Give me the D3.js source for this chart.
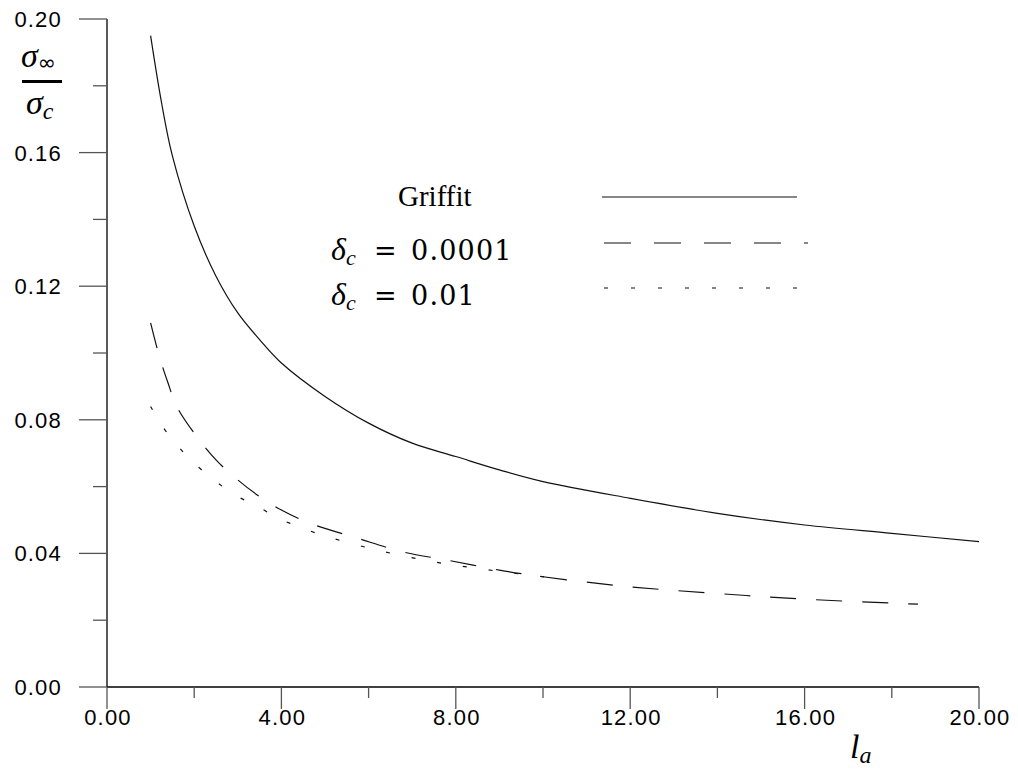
<!DOCTYPE html>
<html>
<head>
<meta charset="utf-8">
<script src="https://cdn.jsdelivr.net/npm/d3@7.9.0/dist/d3.min.js"></script>
<style>
  html, body { margin: 0; padding: 0; background: #fff; }
  svg { display: block; }
</style>
</head>
<body>
<svg id="chart"></svg>
<script>
// values
const griffitX = [1, 1.25, 1.5, 2, 2.5, 3, 3.5, 4, 5, 6, 7, 8, 9, 10, 12, 14, 16, 18, 20];
const griffitY = [0.195, 0.175, 0.159, 0.138, 0.123, 0.112, 0.104, 0.097, 0.087, 0.079, 0.073, 0.069, 0.065, 0.0615, 0.0565, 0.052, 0.0485, 0.046, 0.0435];

const delta1X = [1, 1.2, 1.4, 1.6, 2, 2.5, 3, 3.5, 4, 4.66, 5.73, 6.8, 7.8, 9, 10, 12, 14, 16, 18.6];
const delta1Y = [0.109, 0.099, 0.091, 0.084, 0.076, 0.068, 0.062, 0.057, 0.053, 0.049, 0.0446, 0.0404, 0.038, 0.035, 0.033, 0.030, 0.028, 0.0263, 0.0248];

const delta2X = [1, 1.3, 1.6, 2, 2.5, 3, 3.4, 3.9, 4.4, 5, 6.2, 7.4, 8.5, 9.5, 10.5];
const delta2Y = [0.084, 0.0775, 0.0725, 0.067, 0.0615, 0.057, 0.0545, 0.0507, 0.048, 0.0452, 0.041, 0.0377, 0.0355, 0.0338, 0.0322];

const xMajor = [0, 4, 8, 12, 16, 20];
const xMinor = [2, 6, 10, 14, 18];
const yMajor = [0, 0.04, 0.08, 0.12, 0.16, 0.20];
const yMinor = [0.02, 0.06, 0.10, 0.14, 0.18];

const width = 1018, height = 774;
const svg = d3.select("#chart").attr("width", width).attr("height", height);

const x = d3.scaleLinear().domain([0, 20]).range([107, 979]);
const y = d3.scaleLinear().domain([0, 0.2]).range([687, 19]);

const tickColor = "#555";
const sans = "Liberation Sans, Arial, sans-serif";
const serif = "Liberation Serif, Times New Roman, serif";
const mathSerif = "DejaVu Serif, serif";

// y axis
const yAxis = svg.append("g");
yAxis.append("line")
  .attr("x1", x(0)).attr("x2", x(0))
  .attr("y1", y(0.2)).attr("y2", y(0))
  .attr("stroke", "#000").attr("stroke-width", 1.3);
yAxis.selectAll(".ymaj").data(yMajor).enter().append("line")
  .attr("x1", x(0) - 28).attr("x2", x(0))
  .attr("y1", d => y(d)).attr("y2", d => y(d))
  .attr("stroke", tickColor).attr("stroke-width", 1.3);
yAxis.selectAll(".ymin").data(yMinor).enter().append("line")
  .attr("x1", x(0) - 14).attr("x2", x(0))
  .attr("y1", d => y(d)).attr("y2", d => y(d))
  .attr("stroke", tickColor).attr("stroke-width", 1.3);
yAxis.selectAll("text").data(yMajor).enter().append("text")
  .attr("x", 62).attr("y", d => y(d) + 8)
  .attr("text-anchor", "end")
  .attr("font-family", sans)
  .attr("font-size", 22).attr("letter-spacing", 1.2)
  .text(d => d.toFixed(2));

// x axis
const xAxis = svg.append("g");
xAxis.append("line")
  .attr("x1", x(0)).attr("x2", x(20))
  .attr("y1", y(0)).attr("y2", y(0))
  .attr("stroke", "#000").attr("stroke-width", 1.3);
xAxis.selectAll(".xmaj").data(xMajor).enter().append("line")
  .attr("x1", d => x(d)).attr("x2", d => x(d))
  .attr("y1", y(0)).attr("y2", y(0) + 22)
  .attr("stroke", tickColor).attr("stroke-width", 1.3);
xAxis.selectAll(".xmin").data(xMinor).enter().append("line")
  .attr("x1", d => x(d)).attr("x2", d => x(d))
  .attr("y1", y(0)).attr("y2", y(0) + 11)
  .attr("stroke", tickColor).attr("stroke-width", 1.3);
xAxis.selectAll("text").data(xMajor).enter().append("text")
  .attr("x", d => x(d) + 1).attr("y", 725)
  .attr("text-anchor", "middle")
  .attr("font-family", sans)
  .attr("font-size", 22).attr("letter-spacing", 1.2)
  .text(d => d.toFixed(2));

// curves
const line = d3.line().x(d => x(d[0])).y(d => y(d[1])).curve(d3.curveCatmullRom.alpha(0.5));
const series = [
  { xs: griffitX, ys: griffitY, dash: null },
  { xs: delta1X, ys: delta1Y, dash: "26,20" },
  { xs: delta2X, ys: delta2Y, dash: "4,22" }
];
svg.selectAll(".curve").data(series).enter().append("path")
  .attr("d", s => line(d3.zip(s.xs, s.ys)))
  .attr("fill", "none")
  .attr("stroke", "#111")
  .attr("stroke-width", 1.2)
  .attr("stroke-dasharray", s => s.dash);

// legend
svg.append("text").attr("x", 398).attr("y", 206)
  .attr("font-family", serif).attr("font-size", 29).text("Griffit");
svg.append("line").attr("x1", 602).attr("x2", 797).attr("y1", 197).attr("y2", 197)
  .attr("stroke", "#111").attr("stroke-width", 1.2);

function deltaLabel(yBase, val) {
  const t = svg.append("text").attr("x", 331).attr("y", yBase)
    .attr("font-family", serif).attr("font-size", 32);
  t.append("tspan").attr("font-style", "italic").text("δ");
  t.append("tspan").attr("font-style", "italic").attr("font-size", 22).attr("dy", 5).text("c");
  svg.append("text").attr("x", 374).attr("y", yBase)
    .attr("font-family", mathSerif).attr("font-size", 27).text("=");
  svg.append("text").attr("x", 411).attr("y", yBase)
    .attr("font-family", mathSerif).attr("font-size", 27).attr("letter-spacing", 1.2).text(val);
}
deltaLabel(260, "0.0001");
deltaLabel(305, "0.01");
svg.append("line").attr("x1", 604).attr("x2", 808).attr("y1", 243).attr("y2", 243)
  .attr("stroke", "#111").attr("stroke-width", 1.2).attr("stroke-dasharray", "27,23");
svg.append("line").attr("x1", 604).attr("x2", 805).attr("y1", 288).attr("y2", 288)
  .attr("stroke", "#111").attr("stroke-width", 1.2).attr("stroke-dasharray", "4,23");

// y label: sigma_inf / sigma_c
const yLab = svg.append("g").attr("font-family", serif);
const numer = yLab.append("text").attr("x", 21).attr("y", 67).attr("font-size", 34);
numer.append("tspan").attr("font-style", "italic").text("σ");
numer.append("tspan").attr("font-family", "DejaVu Sans, sans-serif").attr("font-size", 22).attr("dy", 3).text("∞");
yLab.append("rect").attr("x", 22).attr("y", 80).attr("width", 40).attr("height", 3).attr("fill", "#000");
const denom = yLab.append("text").attr("x", 26).attr("y", 114).attr("font-size", 34);
denom.append("tspan").attr("font-style", "italic").text("σ");
denom.append("tspan").attr("font-style", "italic").attr("font-size", 24).attr("dy", 5).text("c");

// x label: l_a
const xLab = svg.append("text").attr("x", 850).attr("y", 758)
  .attr("font-family", serif).attr("font-size", 34);
xLab.append("tspan").attr("font-style", "italic").text("l");
xLab.append("tspan").attr("font-style", "italic").attr("font-size", 24).attr("dy", 5).text("a");
</script>
</body>
</html>
